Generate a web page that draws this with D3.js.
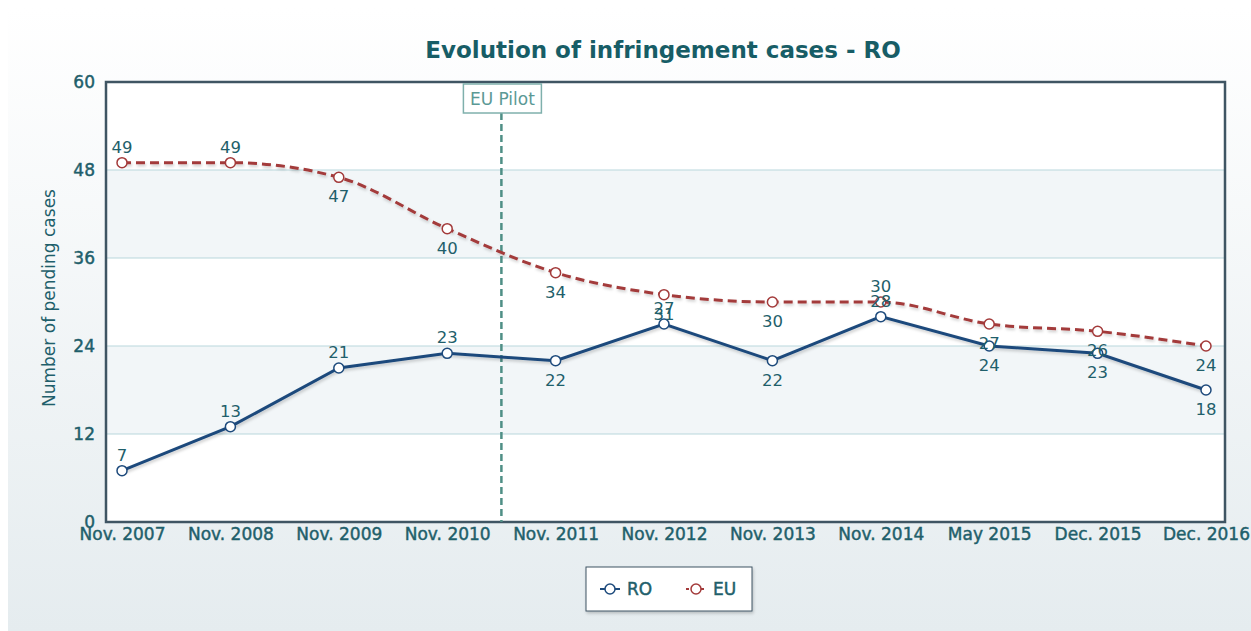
<!DOCTYPE html>
<html>
<head>
<meta charset="utf-8">
<script src="https://cdn.jsdelivr.net/npm/d3@7"></script>
<style>
  body { margin: 0; background: #fff; }
  svg { display: block; }
  svg text { font-family: "DejaVu Sans", sans-serif; }
</style>
</head>
<body>
<svg></svg>
<script>
const width = 1251;
const height = 631;
const margin = { top: 82, right: 26, bottom: 109, left: 106 };

const categories = ["Nov. 2007", "Nov. 2008", "Nov. 2009", "Nov. 2010", "Nov. 2011", "Nov. 2012",
    "Nov. 2013", "Nov. 2014", "May 2015", "Dec. 2015", "Dec. 2016"];
const roValues = [7, 13, 21, 23, 22, 27, 22, 28, 24, 23, 18];
const euValues = [49, 49, 47, 40, 34, 31, 30, 30, 27, 26, 24];
// label above (true) or below (false) the point
const roAbove = [true, true, true, true, false, true, false, true, false, false, false];
const euAbove = [true, true, false, false, false, false, false, true, false, false, false];
const yTicks = [0, 12, 24, 36, 48, 60];
const pilotPosition = 3.5; // between Nov. 2010 and Nov. 2011

const textColor = "#1f5f6b";
const roColor = "#1d4a7c";
const euColor = "#a33a3a";

const svg = d3.select("svg")
    .attr("width", width)
    .attr("height", height);

const defs = svg.append("defs");
const bg = defs.append("linearGradient").attr("id", "bg")
    .attr("x1", 0).attr("y1", 0).attr("x2", 0).attr("y2", 1);
bg.append("stop").attr("offset", "0%").attr("stop-color", "#ffffff");
bg.append("stop").attr("offset", "100%").attr("stop-color", "#e5ecef");

const shadow = defs.append("filter").attr("id", "shadow")
    .attr("x", "-20%").attr("y", "-20%").attr("width", "140%").attr("height", "140%");
shadow.append("feDropShadow").attr("dx", 1).attr("dy", 2).attr("stdDeviation", 1.5)
    .attr("flood-color", "#000").attr("flood-opacity", 0.2);

svg.append("rect")
    .attr("x", 8).attr("y", 8)
    .attr("width", width - 8).attr("height", height - 8)
    .attr("fill", "url(#bg)");

const innerW = width - margin.left - margin.right;
const innerH = height - margin.top - margin.bottom;

const x = d3.scalePoint()
    .domain(d3.range(categories.length))
    .range([margin.left + 16, width - margin.right - 19]);

const y = d3.scaleLinear()
    .domain([0, 60])
    .range([height - margin.bottom, margin.top]);

// plot background with alternating bands
svg.append("rect")
    .attr("x", margin.left).attr("y", margin.top)
    .attr("width", innerW).attr("height", innerH)
    .attr("fill", "#ffffff");

svg.append("g").selectAll("rect")
    .data(d3.pairs(yTicks).filter((d, i) => i % 2 === 1))
    .join("rect")
    .attr("x", margin.left)
    .attr("y", d => y(d[1]))
    .attr("width", innerW)
    .attr("height", d => y(d[0]) - y(d[1]))
    .attr("fill", "#f2f6f8");

// grid lines
svg.append("g").selectAll("line")
    .data(yTicks.slice(1, -1))
    .join("line")
    .attr("x1", margin.left).attr("x2", width - margin.right)
    .attr("y1", d => y(d)).attr("y2", d => y(d))
    .attr("stroke", "#b9d7dc")
    .attr("stroke-width", 1);

// axes - medium weight imitated with a thin stroke
function styleTicks(g) {
    g.select(".domain").remove();
    g.attr("font-family", null);
    g.selectAll("text")
        .attr("fill", textColor)
        .attr("stroke", textColor)
        .attr("stroke-width", 0.45)
        .style("font-size", "17px");
}

svg.append("g")
    .attr("transform", `translate(${margin.left},0)`)
    .call(d3.axisLeft(y).tickValues(yTicks).tickSize(0).tickPadding(11))
    .call(styleTicks);

svg.append("g")
    .attr("transform", `translate(0,${height - margin.bottom})`)
    .call(d3.axisBottom(x).tickSize(0).tickPadding(6).tickFormat(i => categories[i]))
    .call(styleTicks);

// plot border
svg.append("rect")
    .attr("x", margin.left).attr("y", margin.top)
    .attr("width", innerW).attr("height", innerH)
    .attr("fill", "none")
    .attr("stroke", "#3f5563")
    .attr("stroke-width", 2.5);

// EU Pilot marker
const pilotX = margin.left + 16 + pilotPosition * x.step();
svg.append("line")
    .attr("x1", pilotX).attr("x2", pilotX)
    .attr("y1", 113).attr("y2", y(0))
    .attr("stroke", "#4f8f86")
    .attr("stroke-width", 2.5)
    .attr("stroke-dasharray", "7,4");
svg.append("rect")
    .attr("x", pilotX - 38).attr("y", 84)
    .attr("width", 78).attr("height", 29)
    .attr("fill", "#ffffff")
    .attr("stroke", "#7fb0ac")
    .attr("stroke-width", 1.5);
svg.append("text")
    .attr("x", pilotX + 1).attr("y", 105)
    .attr("text-anchor", "middle")
    .attr("fill", "#5b9995")
    .style("font-size", "17px")
    .text("EU Pilot");

// lines
const euLine = d3.line()
    .x((d, i) => x(i))
    .y(d => y(d))
    .curve(d3.curveMonotoneX);
const roLine = d3.line()
    .x((d, i) => x(i))
    .y(d => y(d));

svg.append("path")
    .datum(euValues)
    .attr("d", euLine)
    .attr("fill", "none")
    .attr("stroke", euColor)
    .attr("stroke-width", 3)
    .attr("stroke-dasharray", "9,5")
    .attr("filter", "url(#shadow)");

svg.append("path")
    .datum(roValues)
    .attr("d", roLine)
    .attr("fill", "none")
    .attr("stroke", roColor)
    .attr("stroke-width", 3)
    .attr("filter", "url(#shadow)");

function drawMarkers(values, color) {
    svg.append("g").selectAll("circle")
        .data(values)
        .join("circle")
        .attr("cx", (d, i) => x(i))
        .attr("cy", d => y(d))
        .attr("r", 5)
        .attr("fill", "#ffffff")
        .attr("stroke", color)
        .attr("stroke-width", 1.5);
}
drawMarkers(euValues, euColor);
drawMarkers(roValues, roColor);

function drawLabels(values, above) {
    svg.append("g").selectAll("text")
        .data(values)
        .join("text")
        .attr("x", (d, i) => x(i))
        .attr("y", (d, i) => above[i] ? y(d) - 10 : y(d) + 25)
        .attr("text-anchor", "middle")
        .attr("fill", textColor)
        .style("font-size", "16.5px")
        .text(d => d);
}
drawLabels(euValues, euAbove);
drawLabels(roValues, roAbove);

// title
svg.append("text")
    .attr("x", 663).attr("y", 58)
    .attr("text-anchor", "middle")
    .attr("fill", "#175d66")
    .style("font-size", "23px")
    .style("font-weight", "bold")
    .text("Evolution of infringement cases - RO");

// y axis title
svg.append("text")
    .attr("transform", `translate(55,298) rotate(-90)`)
    .attr("text-anchor", "middle")
    .attr("fill", textColor)
    .style("font-size", "17px")
    .text("Number of pending cases");

// legend
const legend = svg.append("g").attr("transform", "translate(586,567)");
legend.append("rect")
    .attr("width", 166).attr("height", 44)
    .attr("fill", "#ffffff")
    .attr("stroke", "#3f5563")
    .attr("stroke-width", 1)
    .attr("filter", "url(#shadow)");

const legendItems = [
    { name: "RO", color: roColor, dash: null, x: 14 },
    { name: "EU", color: euColor, dash: "3,2", x: 100 }
];
const item = legend.selectAll(".item")
    .data(legendItems)
    .join("g")
    .attr("class", "item")
    .attr("transform", d => `translate(${d.x},22)`);
item.append("line")
    .attr("x1", 0).attr("x2", 20)
    .attr("stroke", d => d.color)
    .attr("stroke-width", 2)
    .attr("stroke-dasharray", d => d.dash);
item.append("circle")
    .attr("cx", 10).attr("r", 5)
    .attr("fill", "#ffffff")
    .attr("stroke", d => d.color)
    .attr("stroke-width", 1.5);
item.append("text")
    .attr("x", 27).attr("y", 6)
    .attr("fill", textColor)
    .attr("stroke", textColor)
    .attr("stroke-width", 0.45)
    .style("font-size", "17px")
    .text(d => d.name);
</script>
</body>
</html>
